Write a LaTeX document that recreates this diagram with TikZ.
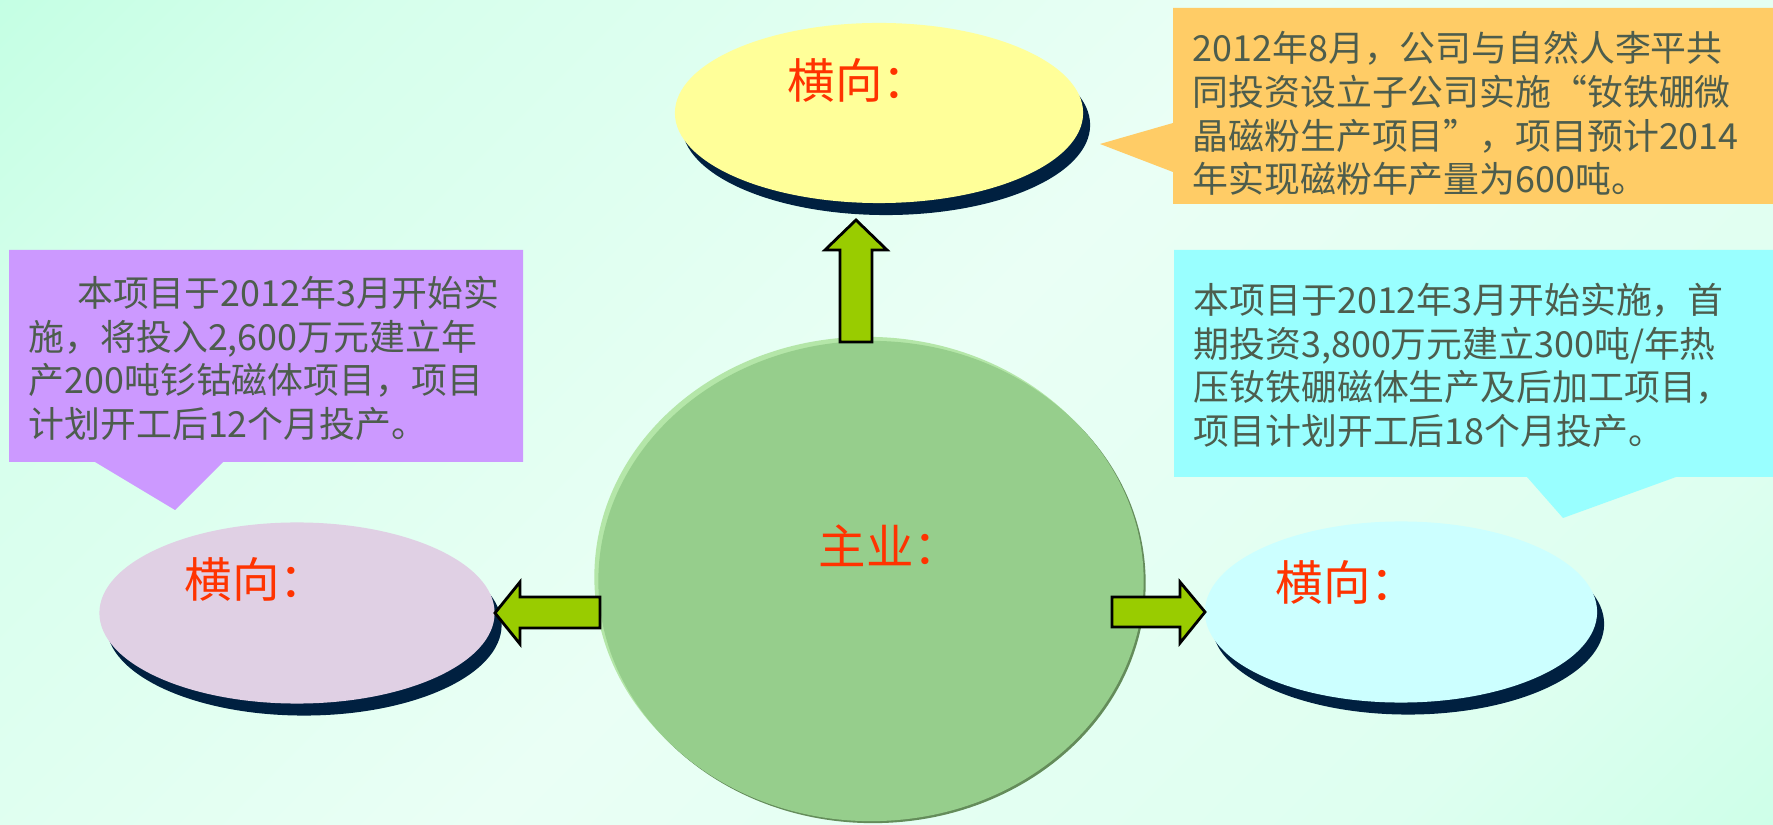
\documentclass[tikz,border=0pt]{standalone}
\usepackage{fontspec}
\setmainfont{Noto Sans CJK SC}
\usetikzlibrary{shapes.geometric,shadows}

\definecolor{bgMint}{RGB}{172,255,216}
\definecolor{bgSoft}{RGB}{214,255,236}
\definecolor{bgPale}{RGB}{234,255,245}
\definecolor{bgLow}{RGB}{222,255,240}
\definecolor{bgMintDeep}{RGB}{184,255,222}
\definecolor{labelRed}{RGB}{255,51,0}
\definecolor{noteInk}{RGB}{77,93,77}
\definecolor{arrowGreen}{RGB}{153,204,0}
\definecolor{shadowNavy}{RGB}{0,32,64}
\definecolor{lilac}{RGB}{224,208,228}
\definecolor{paleYellow}{RGB}{255,255,153}
\definecolor{paleCyan}{RGB}{204,255,255}
\definecolor{coreGreen}{RGB}{150,206,140}
\definecolor{coreRim}{RGB}{180,230,168}
\definecolor{coreDark}{RGB}{100,140,90}
\definecolor{noteViolet}{RGB}{204,153,255}
\definecolor{noteOrange}{RGB}{255,204,102}
\definecolor{noteCyan}{RGB}{153,255,255}

\pgfdeclareverticalshading{bgdiag}{100bp}{color(0bp)=(bgMintDeep); color(25bp)=(bgLow);
  color(50bp)=(bgPale); color(75bp)=(bgSoft); color(100bp)=(bgMint)}

\tikzset{
  branch/.style={ellipse, inner sep=0pt,
    drop shadow={shadow xshift=0.07cm, shadow yshift=-0.12cm, fill=shadowNavy, opacity=1}},
  coreball/.style={ellipse, inner sep=0pt, fill=coreGreen,
    general shadow={shadow xshift=0.02cm, shadow yshift=-0.02cm, fill=coreDark},
    general shadow={shadow xshift=-0.04cm, shadow yshift=0.04cm, fill=coreRim}},
  blockarrow/.style={draw=black, fill=arrowGreen, line width=0.8pt, line join=miter},
  branchlabel/.style={text=labelRed, inner sep=0pt, font=\fontsize{13.5pt}{16pt}\selectfont},
  notetext/.style={align=left, inner sep=0pt, text=noteInk, anchor=north west,
    font=\fontsize{10.2pt}{12.5pt}\selectfont}
}

\begin{document}
\begin{tikzpicture}[x=0.01cm, y=-0.01cm]
  \useasboundingbox (0,0) rectangle (1773,825);
  \shade[shading=bgdiag, shading angle=45] (0,0) rectangle (1773,825);

  % callout boxes
  \fill[noteViolet] (9,250) -- (523,250) -- (523,462) -- (223,462) -- (175,510)
    -- (95,462) -- (9,462) -- cycle;
  \fill[noteOrange] (1173,8) -- (1773,8) -- (1773,204) -- (1173,204) -- (1173,172)
    -- (1100,144) -- (1173,123) -- cycle;
  \fill[noteCyan] (1174,250) -- (1773,250) -- (1773,477) -- (1676,477) -- (1563,518)
    -- (1527,477) -- (1174,477) -- cycle;

  % branches
  \node[branch, fill=paleYellow, minimum width=4.08cm, minimum height=1.80cm] (topBranch) at (879,113) {};
  \node[branch, fill=lilac, minimum width=3.95cm, minimum height=1.81cm] (leftBranch) at (297,613) {};
  \node[branch, fill=paleCyan, minimum width=3.92cm, minimum height=1.81cm] (rightBranch) at (1401,612) {};

  % main business
  \node[coreball, minimum width=5.45cm, minimum height=4.80cm] (core) at (871,581) {};

  % arrows
  \draw[blockarrow] (840,342) -- (840,250) -- (825,250) -- (856,220) -- (887,250)
    -- (872,250) -- (872,342) -- cycle;
  \draw[blockarrow] (600,597) -- (520,597) -- (520,582) -- (495,613) -- (520,644)
    -- (520,628) -- (600,628) -- cycle;
  \draw[blockarrow] (1112,597) -- (1180,597) -- (1180,582) -- (1205,612) -- (1180,643)
    -- (1180,627) -- (1112,627) -- cycle;

  % labels
  \node[branchlabel] (topLabel) at (859,80) {横向：};
  \node[branchlabel] (leftLabel) at (256,579) {横向：};
  \node[branchlabel] (rightLabel) at (1347,582) {横向：};
  \node[branchlabel] (coreLabel) at (890,546) {主业：};

  % notes
  \node[notetext] (leftNote) at (28,275)
    {\hspace*{1.35em}本项目于2012年3月开始实\\施，将投入2,600万元建立年\\产200吨钐钴磁体项目，项目\\计划开工后12个月投产。};
  \node[notetext] (topNote) at (1192,30)
    {2012年8月，公司与自然人李平共\\同投资设立子公司实施“钕铁硼微\\晶磁粉生产项目”，项目预计2014\\年实现磁粉年产量为600吨。};
  \node[notetext] (rightNote) at (1193,282)
    {本项目于2012年3月开始实施，首\\期投资3,800万元建立300吨/年热\\压钕铁硼磁体生产及后加工项目，\\项目计划开工后18个月投产。};
\end{tikzpicture}
\end{document}
